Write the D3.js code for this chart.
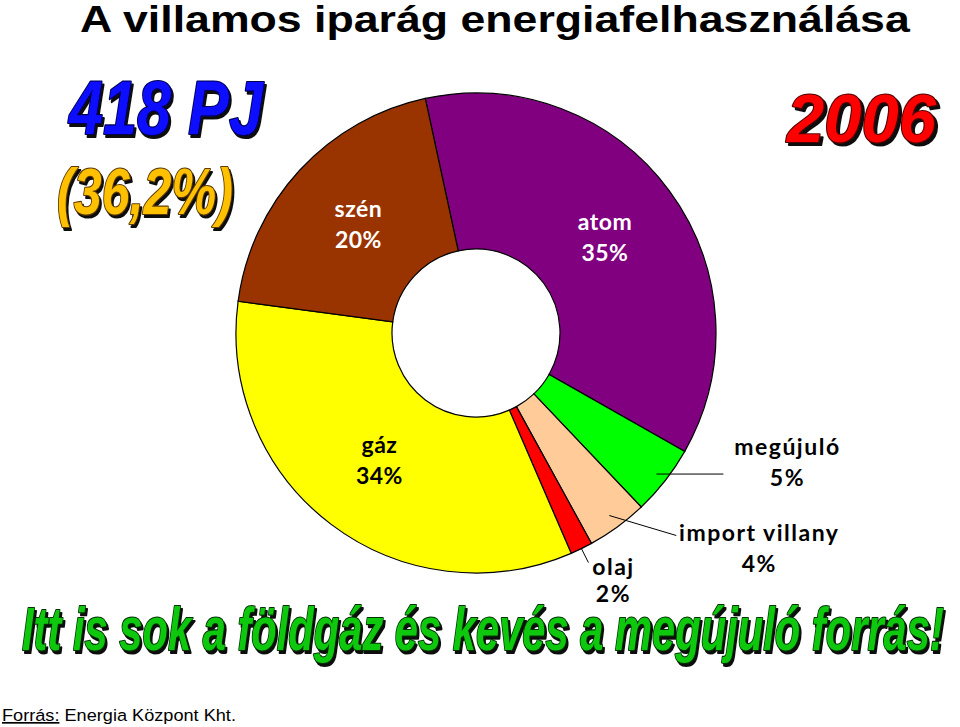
<!DOCTYPE html>
<html>
<head>
<meta charset="utf-8">
<script src="https://cdn.jsdelivr.net/npm/d3@7"></script>
<style>
  body { margin: 0; background: #fff; }
  svg { display: block; }
</style>
</head>
<body>
<div id="container"></div>
<script>
// data (share of the ring, label text)
let sources = ["atom", "megújuló", "import villany", "olaj", "gáz", "szén"];
let shares = [36.6, 4.7, 4.1, 1.5, 33.6, 19.5];
let percentLabels = ["35%", "5%", "4%", "2%", "34%", "20%"];
let sliceColors = ["#800080", "#00ff00", "#ffcc99", "#ff0000", "#ffff00", "#993300"];

let w = 960;
let h = 727;
let cx = 476;
let cy = 333;
let rOuter = 240;
let rInner = 84;

let viz = d3.select("#container")
  .append("svg")
    .attr("width", w)
    .attr("height", h)
;

// drop shadow for the word art texts
let shadow = viz.append("defs").append("filter")
  .attr("id", "shade")
  .attr("x", "-5%").attr("y", "-20%")
  .attr("width", "115%").attr("height", "150%");
shadow.append("feOffset").attr("in", "SourceAlpha").attr("dx", 3).attr("dy", 3).attr("result", "off");
shadow.append("feFlood").attr("flood-color", "#111").attr("result", "col");
shadow.append("feComposite").attr("in", "col").attr("in2", "off").attr("operator", "in").attr("result", "sh");
let merge = shadow.append("feMerge");
merge.append("feMergeNode").attr("in", "sh");
merge.append("feMergeNode").attr("in", "SourceGraphic");

// squeeze a text horizontally so it spans the given width
function fitWidth(sel, x, y, width){
  let natural = sel.node().getComputedTextLength();
  sel.attr("transform", "translate(" + x + "," + y + ") scale(" + (width / natural) + ",1)");
}

// title
let title = viz.append("text")
  .attr("font-family", "Liberation Sans, Arial, sans-serif")
  .attr("font-weight", "bold")
  .attr("font-size", 37)
  .text("A villamos iparág energiafelhasználása");
fitWidth(title, 80, 32, 830);

// the big "word art" labels
function wordArt(txt, x, y, size, width, fill, edge){
  let t = viz.append("text")
    .attr("font-family", "Liberation Sans, Arial, sans-serif")
    .attr("font-weight", "bold")
    .attr("font-style", "italic")
    .attr("font-size", size)
    .attr("fill", fill)
    .attr("stroke", edge)
    .attr("stroke-width", 2.2)
    .attr("stroke-linejoin", "round")
    .attr("paint-order", "stroke")
    .attr("filter", "url(#shade)")
    .text(txt);
  fitWidth(t, x, y, width);
}
wordArt("418 PJ", 69, 134, 76, 194, "#0a0aff", "#000050");
wordArt("(36,2%)", 57, 214, 64, 176, "#ffc000", "#5a3a00");
wordArt("2006", 787, 142, 68, 149, "#ff0000", "#500000");
wordArt("Itt is sok a földgáz és kevés a megújuló forrás!", 22, 650, 61, 922, "#10c810", "#003000");

// ring
let startA = -12.2 * Math.PI / 180;
let pie = d3.pie().sort(null).value(function(d){ return d; })
  .startAngle(startA).endAngle(startA + 2 * Math.PI);
let arcs = pie(shares);
let arcMaker = d3.arc().innerRadius(rInner).outerRadius(rOuter);

let ring = viz.append("g").attr("transform", "translate(" + cx + "," + cy + ")");
ring.selectAll(".slice").data(arcs).enter()
  .append("path")
    .attr("class", "slice")
    .attr("d", arcMaker)
    .attr("fill", function(d, i){ return sliceColors[i]; })
    .attr("stroke", "#000")
    .attr("stroke-width", 1.2)
;

let labelFont = "Lato, 'Noto Sans', sans-serif";

// labels inside the ring
let midArc = d3.arc().innerRadius(160).outerRadius(160);
let inside = {"atom": "#fff", "szén": "#fff", "gáz": "#000"};
arcs.forEach(function(d, i){
  let name = sources[i];
  if (!(name in inside)) return;
  let c = midArc.centroid(d);
  let t = ring.append("text")
    .attr("text-anchor", "middle")
    .attr("font-family", labelFont)
    .attr("font-weight", "bold")
    .attr("font-size", 23)
    .attr("letter-spacing", 0.5)
    .attr("fill", inside[name]);
  t.append("tspan").attr("x", c[0]).attr("y", c[1] - 8).text(name);
  t.append("tspan").attr("x", c[0]).attr("y", c[1] + 23).text(percentLabels[i]);
});

// labels outside with leader lines
let leaders = {
  "megújuló":       {r: 229, dx: 67, dy: 0,  tx: 64, ty: -19, gap: 31},
  "import villany": {r: 226, dx: 67, dy: 20, tx: 83, ty: 5,   gap: 31},
  "olaj":           {r: 240, dx: 7,  dy: 14, tx: 25, ty: 12,  gap: 27}
};
arcs.forEach(function(d, i){
  let name = sources[i];
  let L = leaders[name];
  if (!L) return;
  let a = (d.startAngle + d.endAngle) / 2;
  let x0 = L.r * Math.sin(a);
  let y0 = -L.r * Math.cos(a);
  ring.append("line")
    .attr("x1", x0).attr("y1", y0)
    .attr("x2", x0 + L.dx).attr("y2", y0 + L.dy)
    .attr("stroke", "#000")
    .attr("stroke-width", 1);
  let t = ring.append("text")
    .attr("text-anchor", "middle")
    .attr("font-family", labelFont)
    .attr("font-weight", "bold")
    .attr("font-size", 23)
    .attr("letter-spacing", 1.5)
    .attr("fill", "#000");
  t.append("tspan").attr("x", x0 + L.dx + L.tx).attr("y", y0 + L.dy + L.ty).text(name);
  t.append("tspan").attr("x", x0 + L.dx + L.tx).attr("y", y0 + L.dy + L.ty + L.gap).text(percentLabels[i]);
});

// source line
let src = viz.append("text")
  .attr("font-family", "Liberation Sans, Arial, sans-serif")
  .attr("font-size", 17)
  .attr("fill", "#000");
src.append("tspan").attr("text-decoration", "underline").text("Forrás:");
src.append("tspan").text(" Energia Központ Kht.");
fitWidth(src, 2, 721, 234);
</script>
</body>
</html>
